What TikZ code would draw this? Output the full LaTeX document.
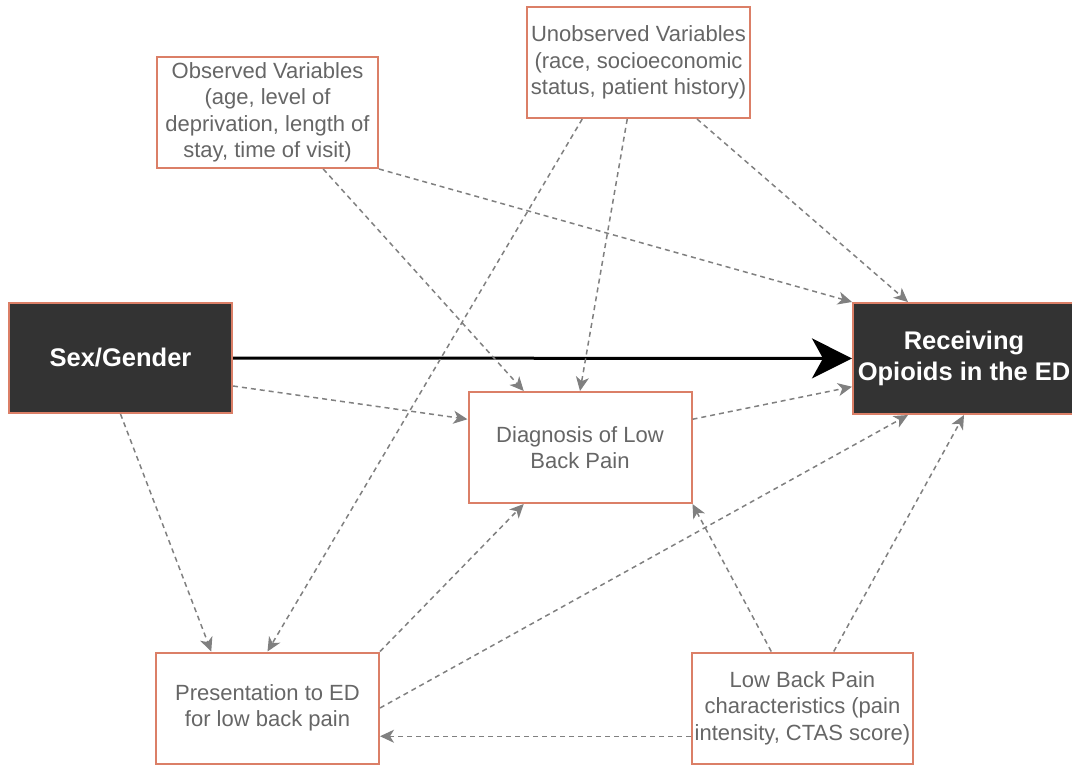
\documentclass[tikz,border=0pt]{standalone}
\usepackage{fontspec}
\setmainfont{Liberation Sans}
\usepackage{tikz}
\usetikzlibrary{arrows.meta, positioning, calc}
\definecolor{boxedge}{HTML}{DB7F67}
\definecolor{boxtext}{HTML}{666666}
\definecolor{darkfill}{HTML}{333333}
\definecolor{linkgray}{HTML}{808080}

\begin{document}
\begin{tikzpicture}[
    x=1pt, y=-1pt,
    varbox/.style={rectangle, draw=boxedge, line width=2pt, fill=white, text=boxtext,
        minimum width=222pt, minimum height=111pt, inner sep=0pt, align=center,
        font=\fontsize{22}{26.5}\selectfont},
    keybox/.style={varbox, fill=darkfill, text=white, font=\fontsize{25.5}{31}\selectfont\bfseries},
    dasharrow/.style={-{Stealth[length=14pt, width=13pt, inset=4pt]}, color=linkgray,
        line width=1.5pt, dash pattern=on 5pt off 4pt},
    mainarrow/.style={-{Stealth[length=40pt, width=40pt, inset=11pt]}, color=black, line width=3pt}
]
\useasboundingbox (0,0) rectangle (1072,766);
\clip (0,0) rectangle (1072,766);

% Exposure and outcome
\node[keybox, minimum height=110pt, minimum width=223pt] (sex) at (120.5,358) {Sex/Gender};
\node[keybox] (rec) at (964,358.5) {Receiving\\Opioids in the ED};

% Confounders
\node[varbox, minimum width=221pt] (obs) at (267.5,112.5) {Observed Variables\\(age, level of\\deprivation, length of\\stay, time of visit)};
\node[varbox, minimum width=223pt] (unobs) at (638.5,62.5) {Unobserved Variables\\(race, socioeconomic\\status, patient history)};

% Mediators
\node[varbox, minimum width=223pt] (diag) at (580,447.5) {Diagnosis of Low\\Back Pain};
\node[varbox, minimum width=223pt] (pres) at (267.5,708) {Presentation to ED\\for low back pain};
\node[varbox, minimum width=221pt] (lbp) at (802.5,708) {Low Back Pain\\characteristics (pain\\intensity, CTAS score)};

% Main effect
\draw[mainarrow] (sex) -- (rec);

% Observed variables
\draw[dasharrow] ($(obs.south west)!0.75!(obs.south east)$) -- ($(diag.north west)!0.25!(diag.north east)$);
\draw[dasharrow] (obs.south east) -- (rec.north west);

% Unobserved variables
\draw[dasharrow] ($(unobs.south west)!0.45!(unobs.south east)$) -- (diag.north);
\draw[dasharrow] ($(unobs.south west)!0.25!(unobs.south east)$) -- (pres.north);
\draw[dasharrow] ($(unobs.south west)!0.76!(unobs.south east)$) -- ($(rec.north west)!0.25!(rec.north east)$);

% Sex/Gender paths
\draw[dasharrow] ($(sex.north east)!0.75!(sex.south east)$) -- ($(diag.north west)!0.25!(diag.south west)$);
\draw[dasharrow] (sex.south) -- ($(pres.north west)!0.25!(pres.north east)$);

% Diagnosis and presentation
\draw[dasharrow] ($(diag.north east)!0.25!(diag.south east)$) -- ($(rec.north west)!0.75!(rec.south west)$);
\draw[dasharrow] (pres.north east) -- ($(diag.south west)!0.25!(diag.south east)$);
\draw[dasharrow] (pres.east) -- ($(rec.south west)!0.25!(rec.south east)$);

% Pain characteristics
\draw[dasharrow] ($(lbp.north west)!0.36!(lbp.north east)$) -- (diag.south east);
\draw[dasharrow] ($(lbp.north west)!0.64!(lbp.north east)$) -- (rec.south);
\draw[dasharrow] ($(lbp.north west)!0.75!(lbp.south west)$) -- ($(pres.north east)!0.75!(pres.south east)$);

\end{tikzpicture}
\end{document}
